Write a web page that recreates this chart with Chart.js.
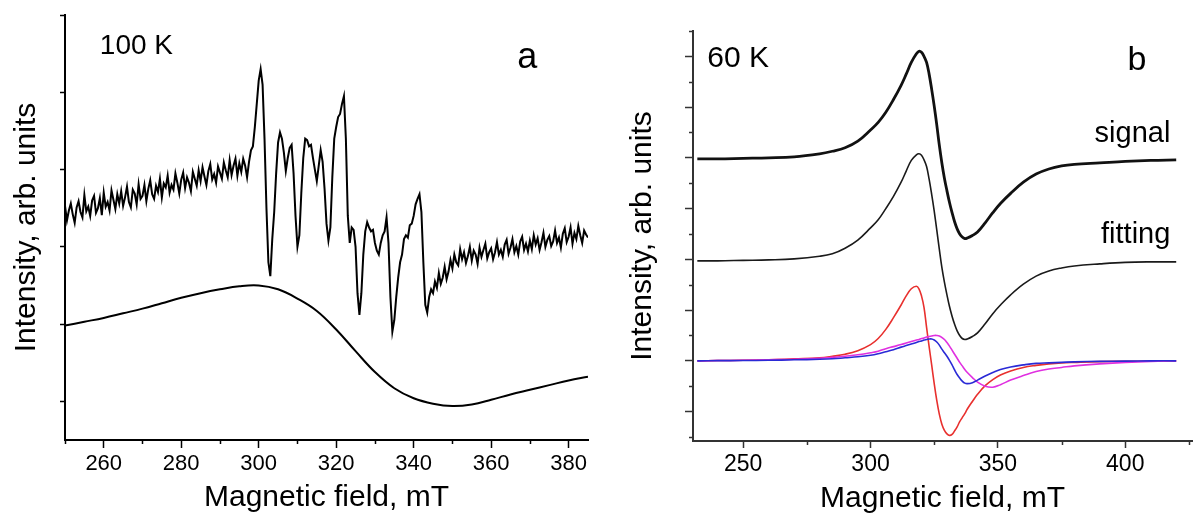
<!DOCTYPE html>
<html>
<head>
<meta charset="utf-8">
<script src="https://cdn.jsdelivr.net/npm/chart.js@4.4.1/dist/chart.umd.min.js"></script>
<style>
html, body { margin: 0; padding: 0; background: #fff; }
#panelA { position: absolute; left: 0; top: 0; }
#panelB { position: absolute; left: 600px; top: 0; }
</style>
</head>
<body>
<canvas id="panelA" width="600" height="515"></canvas>
<canvas id="panelB" width="593" height="515"></canvas>
<script>
// ---------- panel a : 100 K ----------
// recorded spectrum, 0.5 mT per point starting at 250 mT (one row = 5 mT)
const fieldStartA = 250;
const fieldStepA = 0.5;
const signalA = [
  2.53,2.34,2.47,2.56,2.42,2.31,2.51,2.59,2.45,2.38,
  2.67,2.46,2.52,2.40,2.60,2.66,2.44,2.50,2.63,2.41,
  2.70,2.52,2.58,2.47,2.73,2.61,2.49,2.68,2.56,2.72,
  2.53,2.64,2.78,2.58,2.51,2.74,2.69,2.55,2.81,2.62,
  2.66,2.80,2.59,2.75,2.86,2.68,2.62,2.79,2.71,2.88,
  2.64,2.82,2.77,2.92,2.70,2.80,2.74,2.95,2.83,2.69,
  2.87,2.96,2.76,2.90,2.83,2.72,2.97,2.88,2.79,2.99,
  2.85,3.03,2.91,2.80,2.98,3.07,2.87,2.94,2.83,3.04,
  2.96,2.88,3.09,2.99,2.90,3.12,2.93,3.05,3.14,2.92,
  3.08,2.97,3.14,3.05,2.90,3.10,3.25,3.30,3.55,3.85,
  4.15,4.30,4.10,3.40,2.50,1.80,1.62,2.10,2.45,2.95,
  3.35,3.48,3.40,3.22,2.98,3.15,3.28,3.32,2.95,2.40,
  2.00,2.15,2.70,3.15,3.40,3.38,3.30,3.32,3.15,3.00,
  2.85,3.05,3.25,3.10,2.75,2.30,2.08,2.25,2.90,3.40,
  3.55,3.68,3.72,3.85,3.95,3.40,2.40,2.05,2.25,2.22,
  2.00,1.40,1.12,1.40,1.90,2.20,2.32,2.25,2.20,2.22,
  2.05,1.95,1.90,2.05,2.15,2.20,2.38,2.05,1.35,0.90,
  1.05,1.35,1.60,1.80,1.90,2.10,2.15,2.12,2.28,2.30,
  2.40,2.55,2.62,2.68,2.45,1.80,1.25,1.15,1.35,1.45,
  1.40,1.55,1.47,1.66,1.52,1.60,1.74,1.58,1.68,1.83,
  1.72,1.90,1.80,1.76,1.97,1.84,1.93,1.79,1.88,2.00,
  1.82,1.95,1.90,1.78,1.99,1.87,1.96,2.04,1.85,1.93,
  1.98,1.84,1.93,2.06,1.90,1.96,1.87,2.03,2.09,1.91,
  1.99,2.10,1.93,2.01,1.90,2.07,2.13,1.96,2.04,1.94,
  2.08,1.97,2.15,2.03,2.11,1.96,2.06,2.18,2.00,2.09,
  2.14,2.01,2.07,2.21,2.05,2.12,1.99,2.17,2.24,2.06,
  2.13,2.25,2.04,2.18,2.10,2.27,2.15,2.05,2.21,2.16,
  2.12
];

// broad background line
const fieldBroadA = [250,255,260,265,270,275,280,285,290,295,300,305,310,315,320,
                     325,330,335,340,345,350,355,360,365,370,375,380,385];
const broadA = [0.98,1.03,1.08,1.14,1.20,1.27,1.34,1.40,1.45,1.49,1.50,1.45,1.33,1.17,0.93,
                0.65,0.38,0.17,0.04,-0.03,-0.06,-0.04,0.02,0.09,0.15,0.21,0.27,0.32];

const xTicksA = [260,280,300,320,340,360,380];
const xMinorA = [250,270,290,310,330,350,370];
const yTicksA = [0,1,2,3,4,5];

// ---------- panel b : 60 K ----------
const fieldB = [232,240,250,260,270,280,285,290,295,300,303,306,309,312,314,316,318,319,320,321,
                322,323,324,325,326,327,328,329,330,331,332,333,334,335,336,337,338,340,342,345,
                348,351,355,360,365,370,375,380,390,400,410,420];
const signalB = [3.98,3.98,3.99,4.00,4.02,4.08,4.13,4.20,4.33,4.55,4.70,4.90,5.15,5.43,5.65,5.88,6.05,6.10,6.08,6.00,
                 5.88,5.65,5.35,5.02,4.65,4.25,3.90,3.60,3.35,3.12,2.92,2.74,2.60,2.50,2.44,2.41,2.42,2.47,2.54,2.72,
                 2.92,3.10,3.30,3.52,3.68,3.78,3.84,3.87,3.90,3.93,3.95,3.96];
const fittingB = [1.97,1.97,1.98,1.99,2.01,2.06,2.11,2.22,2.38,2.62,2.78,3.00,3.24,3.52,3.74,3.95,4.06,4.08,4.05,3.96,
                  3.83,3.58,3.28,2.95,2.58,2.20,1.84,1.55,1.30,1.07,0.88,0.72,0.59,0.50,0.44,0.42,0.43,0.48,0.55,0.73,
                  0.93,1.10,1.30,1.51,1.67,1.77,1.83,1.87,1.91,1.94,1.95,1.95];
const redB = [0,0.005,0.01,0.02,0.04,0.06,0.09,0.13,0.20,0.32,0.44,0.62,0.85,1.10,1.28,1.42,1.47,1.42,1.28,1.05,
              0.66,0.28,-0.08,-0.45,-0.78,-1.05,-1.25,-1.37,-1.44,-1.47,-1.45,-1.38,-1.30,-1.20,-1.12,-1.04,-0.95,-0.80,-0.66,-0.49,
              -0.37,-0.28,-0.20,-0.13,-0.09,-0.06,-0.04,-0.03,-0.015,-0.01,-0.005,0];
const blueB = [0,0.003,0.005,0.01,0.02,0.03,0.04,0.06,0.08,0.11,0.14,0.18,0.22,0.27,0.30,0.33,0.36,0.38,0.39,0.41,
               0.42,0.43,0.43,0.41,0.37,0.31,0.23,0.16,0.09,0.01,-0.08,-0.18,-0.27,-0.34,-0.40,-0.44,-0.45,-0.43,-0.38,-0.30,
               -0.23,-0.17,-0.12,-0.08,-0.05,-0.04,-0.03,-0.02,-0.01,-0.005,0,0];
const magentaB = [0,0.005,0.01,0.02,0.03,0.05,0.07,0.09,0.12,0.16,0.19,0.24,0.28,0.32,0.35,0.38,0.41,0.42,0.44,0.45,
                  0.47,0.48,0.49,0.50,0.50,0.49,0.46,0.42,0.36,0.29,0.21,0.13,0.05,-0.03,-0.10,-0.17,-0.23,-0.33,-0.42,-0.50,
                  -0.52,-0.47,-0.38,-0.29,-0.21,-0.16,-0.13,-0.10,-0.06,-0.03,-0.01,0];

const xTicksB = [250,300,350,400];
const xMinorB = [275,325,375,425];
const yTicksB = [-1,0,1,2,3,4,5,6];
const yMinorB = [-1.5,-0.5,0.5,1.5,2.5,3.5,4.5,5.5,6.5];

const FONT = "'Liberation Sans', Arial, sans-serif";
Chart.defaults.font.family = FONT;
Chart.defaults.color = '#000';

const pairs = (xs, ys) => ys.map((v, i) => ({x: xs[i], y: v}));
const gridA = signalA.map((_, i) => fieldStartA + i * fieldStepA);

// short minor ticks and the in-plot labels, placed through the chart scales
const extras = {
  id: 'extras',
  afterDraw(chart, args, opts) {
    const ctx = chart.ctx, xs = chart.scales.x, ys = chart.scales.y;
    ctx.save();
    ctx.strokeStyle = opts.color;
    ctx.lineWidth = opts.width;
    (opts.xMinor || []).forEach(v => {
      const p = Math.round(xs.getPixelForValue(v)) + 0.5;
      ctx.beginPath(); ctx.moveTo(p, xs.top); ctx.lineTo(p, xs.top + opts.len); ctx.stroke();
    });
    (opts.yMinor || []).forEach(v => {
      const p = Math.round(ys.getPixelForValue(v)) + 0.5;
      ctx.beginPath(); ctx.moveTo(ys.right, p); ctx.lineTo(ys.right - opts.len, p); ctx.stroke();
    });
    ctx.fillStyle = '#000';
    ctx.textBaseline = 'alphabetic';
    (opts.labels || []).forEach(l => {
      ctx.font = l.size + 'px ' + FONT;
      ctx.textAlign = l.align;
      ctx.fillText(l.text, xs.getPixelForValue(l.x), ys.getPixelForValue(l.y));
    });
    ctx.restore();
  }
};

function setTicks(list) {
  return scale => { scale.ticks = list.map(v => ({value: v})); };
}

const smooth = { pointRadius: 0, tension: 0.4 };

new Chart(document.getElementById('panelA'), {
  type: 'line',
  data: {
    datasets: [
      { data: pairs(gridA, signalA), borderColor: '#000', borderWidth: 2, pointRadius: 0, tension: 0 },
      { data: pairs(fieldBroadA, broadA), borderColor: '#000', borderWidth: 2, ...smooth }
    ]
  },
  options: {
    responsive: false,
    animation: false,
    layout: { padding: { top: 15, right: 12, left: 0, bottom: 0 } },
    plugins: {
      legend: { display: false },
      tooltip: { enabled: false },
      extras: {
        color: '#000', width: 1.5, len: 4,
        xMinor: xMinorA,
        labels: [
          { text: '100 K', x: 259, y: 4.49, size: 28, align: 'left' },
          { text: 'a', x: 369.3, y: 4.32, size: 36, align: 'center' }
        ]
      }
    },
    scales: {
      x: {
        type: 'linear', min: 250, max: 385,
        afterBuildTicks: setTicks(xTicksA),
        afterFit: s => { s.height = 75; },
        border: { display: true, color: '#000', width: 2 },
        grid: { drawOnChartArea: false, drawTicks: true, tickLength: 8, tickColor: '#000', tickWidth: 1.5 },
        ticks: { font: { size: 22 }, padding: 3, maxRotation: 0, autoSkip: false, color: '#000' },
        title: { display: true, text: 'Magnetic field, mT', font: { size: 30, lineHeight: 1 }, padding: { top: 0, bottom: 2 }, color: '#000' }
      },
      y: {
        type: 'linear', min: -0.5, max: 5,
        afterBuildTicks: setTicks(yTicksA),
        afterFit: s => { s.width = 65; },
        border: { display: true, color: '#000', width: 2 },
        grid: { drawOnChartArea: false, drawTicks: true, tickLength: 5, tickColor: '#000', tickWidth: 1.5 },
        ticks: { display: false },
        title: { display: true, text: 'Intensity, arb. units', font: { size: 30, lineHeight: 1 }, padding: { top: 12, bottom: 0 }, color: '#000' }
      }
    }
  },
  plugins: [extras]
});

new Chart(document.getElementById('panelB'), {
  type: 'line',
  data: {
    datasets: [
      { data: pairs(fieldB, signalB), borderColor: '#111', borderWidth: 2.8, ...smooth },
      { data: pairs(fieldB, fittingB), borderColor: '#1a1a1a', borderWidth: 1.6, ...smooth },
      { data: pairs(fieldB, blueB), borderColor: '#2a2ad6', borderWidth: 1.6, ...smooth },
      { data: pairs(fieldB, magentaB), borderColor: '#e030e0', borderWidth: 1.6, ...smooth },
      { data: pairs(fieldB, redB), borderColor: '#e8302e', borderWidth: 1.6, ...smooth }
    ]
  },
  options: {
    responsive: false,
    animation: false,
    layout: { padding: { top: 31, right: 1, left: 0, bottom: 0 } },
    plugins: {
      legend: { display: false },
      tooltip: { enabled: false },
      extras: {
        color: '#333', width: 1.5, len: 4,
        xMinor: xMinorB,
        yMinor: yMinorB,
        labels: [
          { text: '60 K', x: 235.9, y: 5.80, size: 30, align: 'left' },
          { text: 'b', x: 404.6, y: 5.73, size: 34, align: 'center' },
          { text: 'signal', x: 417.7, y: 4.32, size: 29, align: 'right' },
          { text: 'fitting', x: 417.7, y: 2.32, size: 29, align: 'right' }
        ]
      }
    },
    scales: {
      x: {
        type: 'linear', min: 230.3, max: 426.2,
        afterBuildTicks: setTicks(xTicksB),
        afterFit: s => { s.height = 74; },
        border: { display: true, color: '#333', width: 2 },
        grid: { drawOnChartArea: false, drawTicks: true, tickLength: 7, tickColor: '#333', tickWidth: 1.5 },
        ticks: { font: { size: 23 }, padding: 3, maxRotation: 0, autoSkip: false, color: '#000' },
        title: { display: true, text: 'Magnetic field, mT', font: { size: 30, lineHeight: 1 }, padding: { top: 0, bottom: 1 }, color: '#000' }
      },
      y: {
        type: 'linear', min: -1.58, max: 6.5,
        afterBuildTicks: setTicks(yTicksB),
        afterFit: s => { s.width = 93; },
        border: { display: true, color: '#333', width: 2 },
        grid: { drawOnChartArea: false, drawTicks: true, tickLength: 8, tickColor: '#333', tickWidth: 1.5 },
        ticks: { display: false },
        title: { display: true, text: 'Intensity, arb. units', font: { size: 30, lineHeight: 1 }, padding: { top: 28, bottom: 0 }, color: '#000' }
      }
    }
  },
  plugins: [extras]
});
</script>
</body>
</html>
